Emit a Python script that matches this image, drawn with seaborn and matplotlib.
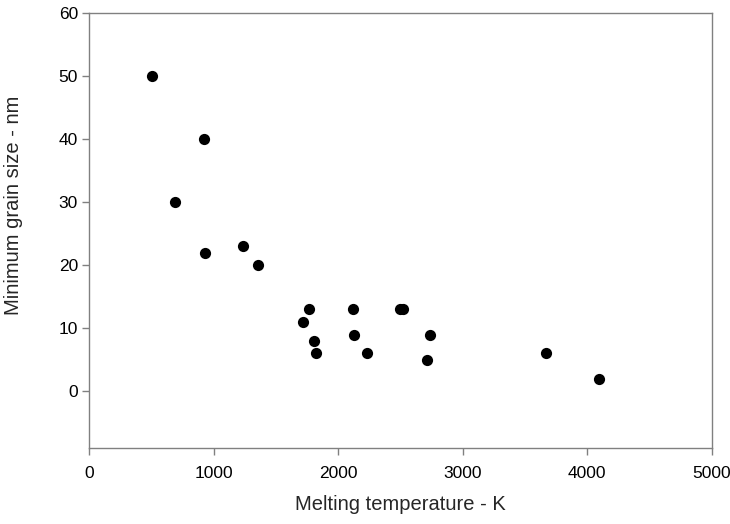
import matplotlib
matplotlib.use("Agg")
import matplotlib.pyplot as plt
import seaborn as sns
import pandas as pd

melting_temp = [505, 923, 693, 933, 1235, 1358, 1765, 1719, 1805, 1821,
                2121, 2126, 2228, 2495, 2520, 2737, 2712, 3668, 4094]
grain_size = [50, 40, 30, 22, 23, 20, 13, 11, 8, 6,
              13, 9, 6, 13, 13, 9, 5, 6, 2]
x_ticks = [0, 1000, 2000, 3000, 4000, 5000]
y_ticks = [0, 10, 20, 30, 40, 50, 60]

df = pd.DataFrame({"Melting temperature - K": melting_temp,
                   "Minimum grain size - nm": grain_size})

sns.set_style("white")
plt.rcParams['font.family'] = ['Liberation Sans', 'DejaVu Sans']

fig = plt.figure(figsize=(7.3, 5.24), dpi=100)
ax = fig.add_axes([0.1219, 0.145, 0.8534, 0.8302])
sns.scatterplot(data=df, x="Melting temperature - K", y="Minimum grain size - nm",
                ax=ax, color="black", s=65, edgecolor="black", linewidth=0)

ax.set_xlim(0, 5000)
ax.set_ylim(-9, 60)
ax.set_xticks(x_ticks)
ax.set_yticks(y_ticks)
ax.tick_params(axis='both', which='both', direction='out', length=5, width=1,
               color='#808080', labelsize=12.5, labelcolor='black',
               bottom=True, left=True)
ax.tick_params(axis='x', pad=8)
ax.tick_params(axis='y', pad=3)
for sp in ax.spines.values():
    sp.set_color('#808080')
    sp.set_linewidth(1)
ax.set_xlabel("Melting temperature - K", fontsize=14.5, labelpad=10)
ax.set_ylabel("Minimum grain size - nm", fontsize=14.5)
ax.yaxis.set_label_coords(-0.106, 0.558)

fig.savefig("out.png", dpi=100)
